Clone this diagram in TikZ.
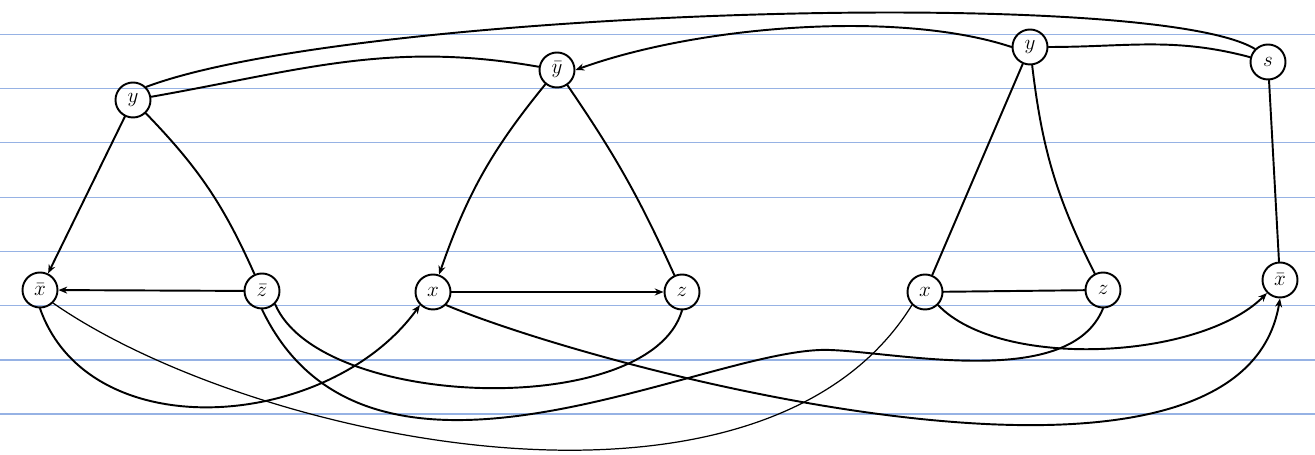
\documentclass[tikz,border=0pt]{standalone}
\usepackage{amsmath, amssymb}
\usepackage{tikz}
\usetikzlibrary{arrows.meta, positioning, calc}

\definecolor{ruleblue}{RGB}{150,178,228}

\tikzset{
  lit/.style={draw, circle, line width=1.1pt, inner sep=1pt, minimum size=0.7cm, font=\large},
  wire/.style={line width=1.1pt},
  thinwire/.style={line width=0.7pt},
  tip/.style={-{Stealth[length=5pt, width=4pt]}}
}

\begin{document}
\begin{tikzpicture}[>=Stealth, line cap=round]
    \useasboundingbox (0,0) rectangle (26.3,9.1);
    % Ruled paper
    \foreach \py in {35,89,143,198,252,306,360,414}
        \draw [ruleblue, line width=0.6pt] (0,{(455-\py)*0.02}) -- (26.3,{(455-\py)*0.02});
    % Top row
    \node [lit] (y1) at (2.66,7.10) {$y$};
    \node [lit] (yb2) at (11.14,7.70) {$\bar{y}$};
    \node [lit] (y3) at (20.60,8.16) {$y$};
    \node [lit] (s) at (25.36,7.86) {$s$};
    % Bottom row
    \node [lit] (xb1) at (0.80,3.30) {$\bar{x}$};
    \node [lit] (zb1) at (5.24,3.28) {$\bar{z}$};
    \node [lit] (x2) at (8.66,3.26) {$x$};
    \node [lit] (z2) at (13.64,3.26) {$z$};
    \node [lit] (x3) at (18.50,3.26) {$x$};
    \node [lit] (z3) at (22.06,3.30) {$z$};
    \node [lit] (xb3) at (25.60,3.50) {$\bar{x}$};
    % Triangles
    \draw [wire, tip] (y1) -- (xb1);
    \draw [wire] (y1) to [bend left=10] (zb1);
    \draw [wire, tip] (zb1) -- (xb1);
    \draw [wire, tip] (yb2) to [bend right=10] (x2);
    \draw [wire] (yb2) to [bend left=5] (z2);
    \draw [wire, tip] (x2) -- (z2);
    \draw [wire] (y3) -- (x3);
    \draw [wire] (y3) to [bend right=10] (z3);
    \draw [wire] (x3) -- (z3);
    \draw [wire] (s) -- (xb3);
    % Links along the top
    \draw [wire] (y1) to [out=10, in=170] (yb2);
    \draw [wire] (y1.north east) .. controls (7.0,8.9) and (23.0,9.4) .. (s.north west);
    \draw [wire, tip] (y3.west) .. controls (18.0,8.9) and (14.0,8.6) .. (yb2.east);
    \draw [wire] (y3) to [out=0, in=165] (s);
    % Links along the bottom
    \draw [wire, tip] (xb1.south) .. controls (1.8,0.1) and (6.6,0.5) .. (x2.south west);
    \draw [thinwire] (xb1.south east) .. controls (5.0,0.3) and (15.2,-1.9) .. (x3.south west);
    \draw [wire] (zb1.south east) .. controls (6.4,0.9) and (13.0,0.7) .. (z2.south);
    \draw [wire] (zb1.south) .. controls (7.4,-1.6) and (14.2,2.2) .. (16.6,2.1)
        .. controls (18.0,2.05) and (21.4,1.3) .. (z3.south);
    \draw [wire, tip] (x2.south east) .. controls (12.0,1.7) and (24.8,-1.7) .. (xb3.south);
    \draw [wire, tip] (x3.south east) .. controls (20.0,1.7) and (24.0,1.9) .. (xb3.south west);
\end{tikzpicture}
\end{document}
